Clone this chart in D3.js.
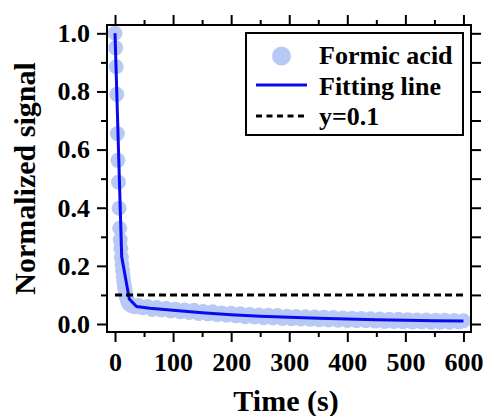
<!DOCTYPE html>
<html>
<head>
<meta charset="utf-8">
<script src="https://cdn.jsdelivr.net/npm/d3@7"></script>
<style>
  body { margin: 0; background: #fff; }
  text { font-family: "Liberation Serif", "Times New Roman", serif; font-weight: bold; }
</style>
</head>
<body>
<script>
"use strict";

// measured points (time in s, normalized signal)
const pointTime = [
  0, 1, 2, 3, 4, 5, 6, 7, 8, 9, 10, 11, 12, 13, 14, 15, 16, 17, 18, 19, 20,
  21, 22, 23, 24, 26, 28, 30, 32, 34, 36, 38,
  40, 48, 56, 64, 72, 80, 88, 96, 104, 112, 120, 128, 136, 144, 152, 160,
  168, 176, 184, 192, 200, 208, 216, 224, 232, 240, 248, 256, 264, 272, 280,
  288, 296, 304, 312, 320, 328, 336, 344, 352, 360, 368, 376, 384, 392, 400,
  408, 416, 424, 432, 440, 448, 456, 464, 472, 480, 488, 496, 504, 512, 520,
  528, 536, 544, 552, 560, 568, 576, 584, 592, 600
];
const pointSignal = [
  1.0, 0.95, 0.885, 0.79, 0.655, 0.563, 0.488, 0.398, 0.329, 0.29, 0.26, 0.23, 0.205, 0.185, 0.165, 0.148, 0.133, 0.12, 0.109, 0.099, 0.091,
  0.084, 0.078, 0.074, 0.070, 0.066, 0.064, 0.063, 0.061, 0.062, 0.059, 0.060,
  0.064, 0.056, 0.060, 0.050, 0.057, 0.048, 0.054, 0.045, 0.051, 0.042, 0.048, 0.040, 0.047, 0.036, 0.043, 0.035,
  0.042, 0.032, 0.038, 0.030, 0.037, 0.028, 0.035, 0.025, 0.033, 0.024, 0.031, 0.022, 0.030, 0.021, 0.029,
  0.019, 0.027, 0.018, 0.026, 0.017, 0.025, 0.016, 0.024, 0.015, 0.023, 0.014, 0.022, 0.013, 0.021, 0.012,
  0.020, 0.011, 0.019, 0.011, 0.018, 0.010, 0.017, 0.009, 0.016, 0.009, 0.016, 0.008, 0.015, 0.007, 0.014,
  0.007, 0.014, 0.006, 0.013, 0.006, 0.013, 0.006, 0.012, 0.007, 0.011
];

// fitting line
const fitTime = [0, 11.5, 24.6, 37, 60, 100, 150, 200, 250, 300, 350, 400, 450, 500, 550, 600];
const fitSignal = [1.0, 0.231, 0.086, 0.060, 0.054, 0.047, 0.039, 0.032, 0.027, 0.023, 0.020, 0.017, 0.015, 0.013, 0.011, 0.010];

const thresholdValue = 0.1;

const xMajor = [0, 100, 200, 300, 400, 500, 600];
const xMinor = [50, 150, 250, 350, 450, 550];
const yMajor = [0.0, 0.2, 0.4, 0.6, 0.8, 1.0];
const yMinor = [0.1, 0.3, 0.5, 0.7, 0.9];

const legendLabels = ["Formic acid", "Fitting line", "y=0.1"];

const width = 488, height = 416;
const margin = {top: 25, right: 17, bottom: 84, left: 107};

const pointColor = "#b9c9f6";
const lineColor = "#0a0af0";

const svg = d3.select("body").append("svg")
    .attr("width", width)
    .attr("height", height);

const x = d3.scaleLinear()
    .domain([-13.8, 613])
    .range([margin.left, width - margin.right]);
const y = d3.scaleLinear()
    .domain([-0.0275, 1.0286])
    .range([height - margin.bottom, margin.top]);

// data
svg.append("g")
    .selectAll("circle")
    .data(d3.zip(pointTime, pointSignal))
    .enter()
    .append("circle")
    .attr("cx", d => x(d[0]))
    .attr("cy", d => y(d[1]))
    .attr("r", 7.5)
    .attr("fill", pointColor);

const fitLine = d3.line()
    .x(d => x(d[0]))
    .y(d => y(d[1]));

svg.append("path")
    .datum(d3.zip(fitTime, fitSignal))
    .attr("d", fitLine)
    .attr("fill", "none")
    .attr("stroke", lineColor)
    .attr("stroke-width", 3)
    .attr("stroke-linejoin", "round");

svg.append("line")
    .attr("x1", x(0))
    .attr("x2", x(600))
    .attr("y1", y(thresholdValue))
    .attr("y2", y(thresholdValue))
    .attr("stroke", "black")
    .attr("stroke-width", 3)
    .attr("stroke-dasharray", "7,4");

// axes
function styleAxis(g) {
    g.select(".domain").remove();
    g.selectAll(".tick line").attr("stroke", "black").attr("stroke-width", 2);
    g.selectAll(".tick text")
        .attr("fill", "black")
        .style("font-size", "26px")
        .style("font-family", "Liberation Serif, serif")
        .style("font-weight", "bold");
}

const bottomY = height - margin.bottom;
const rightX = width - margin.right;

svg.append("g")
    .attr("transform", `translate(${margin.left},0)`)
    .call(d3.axisLeft(y).tickValues(yMajor).tickSize(10).tickPadding(7).tickFormat(d3.format(".1f")))
    .call(styleAxis);
svg.append("g")
    .attr("transform", `translate(${margin.left},0)`)
    .call(d3.axisLeft(y).tickValues(yMinor).tickSize(6).tickFormat(""))
    .call(styleAxis);
svg.append("g")
    .attr("transform", `translate(${rightX},0)`)
    .call(d3.axisRight(y).tickValues(yMajor.concat(yMinor)).tickSize(10).tickFormat(""))
    .call(styleAxis);

svg.append("g")
    .attr("transform", `translate(0,${bottomY})`)
    .call(d3.axisBottom(x).tickValues(xMajor).tickSize(10).tickPadding(11))
    .call(styleAxis);
svg.append("g")
    .attr("transform", `translate(0,${bottomY})`)
    .call(d3.axisBottom(x).tickValues(xMinor).tickSize(5).tickFormat(""))
    .call(styleAxis);
svg.append("g")
    .attr("transform", `translate(0,${margin.top})`)
    .call(d3.axisTop(x).tickValues(xMajor).tickSize(10).tickFormat(""))
    .call(styleAxis);
svg.append("g")
    .attr("transform", `translate(0,${margin.top})`)
    .call(d3.axisTop(x).tickValues(xMinor).tickSize(5).tickFormat(""))
    .call(styleAxis);

// frame
svg.append("rect")
    .attr("x", margin.left)
    .attr("y", margin.top)
    .attr("width", rightX - margin.left)
    .attr("height", bottomY - margin.top)
    .attr("fill", "none")
    .attr("stroke", "black")
    .attr("stroke-width", 2);

// titles
svg.append("text")
    .attr("x", (margin.left + rightX) / 2 - 3)
    .attr("y", 411)
    .attr("text-anchor", "middle")
    .style("font-size", "30px")
    .text("Time (s)");

svg.append("text")
    .attr("transform", `translate(35,${(margin.top + bottomY) / 2}) rotate(-90)`)
    .attr("text-anchor", "middle")
    .style("font-size", "30px")
    .text("Normalized signal");

// legend
const legend = svg.append("g");
legend.append("rect")
    .attr("x", 246)
    .attr("y", 33)
    .attr("width", 217)
    .attr("height", 102)
    .attr("fill", "white")
    .attr("stroke", "black")
    .attr("stroke-width", 2);

legend.append("circle")
    .attr("cx", 281.5)
    .attr("cy", 56)
    .attr("r", 9.5)
    .attr("fill", pointColor);
legend.append("line")
    .attr("x1", 256).attr("x2", 307)
    .attr("y1", 85).attr("y2", 85)
    .attr("stroke", lineColor)
    .attr("stroke-width", 3);
legend.append("line")
    .attr("x1", 256).attr("x2", 307)
    .attr("y1", 116).attr("y2", 116)
    .attr("stroke", "black")
    .attr("stroke-width", 3)
    .attr("stroke-dasharray", "6,4.5");

legend.selectAll("text.label")
    .data(legendLabels)
    .enter()
    .append("text")
    .attr("class", "label")
    .attr("x", 319)
    .attr("y", (d, i) => 64 + i * 30.5)
    .style("font-size", "26px")
    .text(d => d);
</script>
</body>
</html>
